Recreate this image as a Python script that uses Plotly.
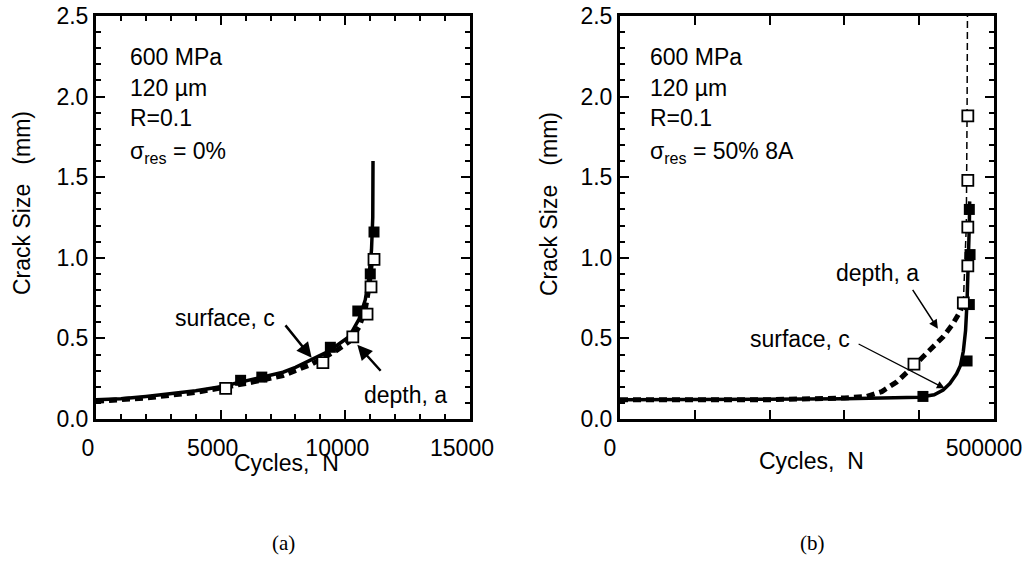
import plotly.graph_objects as go

W, H = 1027, 575

# ---- Panel (a) data ----
a_surf_N = [0, 1000, 2000, 3000, 4000, 5000, 6000, 7000, 7500, 8000, 8650, 9200, 9600, 10150, 10550, 10800, 10950, 11050, 11100, 11110]
a_surf_c = [0.12, 0.125, 0.14, 0.155, 0.175, 0.20, 0.235, 0.27, 0.29, 0.32, 0.37, 0.41, 0.45, 0.51, 0.62, 0.74, 0.88, 1.05, 1.25, 1.6]
a_depth_N = [0, 2000, 4000, 6000, 7500, 8650, 9600, 10150, 10550, 10800, 10950, 11050]
a_depth_a = [0.11, 0.13, 0.165, 0.22, 0.27, 0.34, 0.42, 0.48, 0.57, 0.68, 0.82, 0.98]
a_fill_N = [5800, 6650, 9400, 10500, 11000, 11150]
a_fill_c = [0.24, 0.26, 0.445, 0.67, 0.90, 1.16]
a_open_N = [5200, 9100, 10300, 10870, 11030, 11150]
a_open_a = [0.19, 0.35, 0.51, 0.65, 0.82, 0.99]

# ---- Panel (b) data ----
b_surf_N = [0, 100000, 200000, 300000, 400000, 420000, 432000, 441000, 450000, 455000, 459000, 462000, 464000, 466000, 467000, 467500]
b_surf_c = [0.12, 0.12, 0.12, 0.125, 0.135, 0.15, 0.18, 0.22, 0.28, 0.33, 0.42, 0.55, 0.73, 0.98, 1.2, 1.35]
b_depth_N = [0, 100000, 200000, 300000, 330000, 350000, 370000, 393000, 415000, 432000, 445000, 455000, 459000]
b_depth_a = [0.12, 0.12, 0.12, 0.13, 0.14, 0.17, 0.23, 0.33, 0.43, 0.51, 0.59, 0.67, 0.72]
b_depth_top_N = [459000, 463000, 464000, 464500]
b_depth_top_a = [0.72, 1.2, 1.9, 2.5]
b_fill_N = [405000, 464000, 467000, 468000, 467000]
b_fill_c = [0.14, 0.36, 0.71, 1.02, 1.30]
b_open_N = [393000, 459000, 465000, 465000, 465000, 465000]
b_open_a = [0.34, 0.72, 0.95, 1.19, 1.48, 1.88]

y_ticks = [0, 0.5, 1.0, 1.5, 2.0, 2.5]
y_labels = ["0.0", "0.5", "1.0", "1.5", "2.0", "2.5"]
a_x_ticks = [0, 5000, 10000, 15000]
b_x_ticks = [0, 100000, 200000, 300000, 400000, 500000]
b_x_labels = ["0", "", "", "", "", "500000"]

FONT = "Liberation Sans, Arial, sans-serif"
FS = 23

fig = go.Figure()

def add_panel(xa, ya, sN, sc, dN, da, fN, fc, oN, oa, dwidth):
    fig.add_trace(go.Scatter(x=dN, y=da, mode="lines", xaxis=xa, yaxis=ya,
                             line=dict(color="black", width=dwidth, dash="8px,5px"), showlegend=False))
    fig.add_trace(go.Scatter(x=sN, y=sc, mode="lines", xaxis=xa, yaxis=ya,
                             line=dict(color="black", width=3.5), showlegend=False))
    fig.add_trace(go.Scatter(x=fN, y=fc, mode="markers", xaxis=xa, yaxis=ya,
                             marker=dict(symbol="square", size=11, color="black"), showlegend=False))
    fig.add_trace(go.Scatter(x=oN, y=oa, mode="markers", xaxis=xa, yaxis=ya,
                             marker=dict(symbol="square", size=11, color="white",
                                         line=dict(color="black", width=1.8)), showlegend=False))

add_panel("x", "y", a_surf_N, a_surf_c, a_depth_N, a_depth_a, a_fill_N, a_fill_c, a_open_N, a_open_a, 5)
fig.add_trace(go.Scatter(x=b_depth_top_N, y=b_depth_top_a, mode="lines", xaxis="x2", yaxis="y2",
                         line=dict(color="black", width=1.5, dash="7px,4px"), showlegend=False))
add_panel("x2", "y2", b_surf_N, b_surf_c, b_depth_N, b_depth_a, b_fill_N, b_fill_c, b_open_N, b_open_a, 5)

ydom = [1 - 419 / H, 1 - 16 / H]
axis_common = dict(showline=True, linecolor="black", linewidth=3, mirror="allticks",
                   ticks="inside", ticklen=9, tickwidth=2, tickcolor="black",
                   tickmode="array", showgrid=False, zeroline=False, automargin=False,
                   tickfont=dict(family=FONT, size=FS, color="black"))
minor_common = dict(ticks="inside", ticklen=5, tickwidth=2, tickcolor="black", showgrid=False)

fig.update_layout(
    width=W, height=H, margin=dict(l=0, r=0, t=0, b=0, autoexpand=False),
    paper_bgcolor="white", plot_bgcolor="white",
    xaxis=dict(domain=[96 / W, 470 / W], range=[0, 15000], tickvals=a_x_ticks,
               ticktext=[str(v) for v in a_x_ticks], anchor="y",
               minor=dict(dtick=1000, **minor_common),
               ticklabelstandoff=6, ticklabelshift=-8, **axis_common),
    yaxis=dict(domain=ydom, range=[0, 2.5], tickvals=y_ticks, ticktext=y_labels, anchor="x",
               minor=dict(dtick=0.1, **minor_common), **axis_common),
    xaxis2=dict(domain=[620 / W, 994 / W], range=[0, 500000], tickvals=b_x_ticks,
                ticktext=b_x_labels, anchor="y2",
                ticklabelstandoff=6, ticklabelshift=-10, **axis_common),
    yaxis2=dict(domain=ydom, range=[0, 2.5], tickvals=y_ticks, ticktext=y_labels, anchor="x2",
                minor=dict(dtick=0.1, **minor_common), **axis_common),
)

def ptxt(px, py, text, xanchor="left", size=FS, family=FONT, angle=0):
    fig.add_annotation(x=px / W, y=1 - py / H, xref="paper", yref="paper", text=text,
                       showarrow=False, xanchor=xanchor, yanchor="middle", textangle=angle,
                       font=dict(family=family, size=size, color="black"))

nb = "\u00a0"
for x0, lines in [(128, ["600 MPa", "120 µm", "R=0.1", "σ<sub>res</sub> = 0%"]),
                  (648, ["600 MPa", "120 µm", "R=0.1", "σ<sub>res</sub> = 50% 8A"])]:
    for py, t in zip([57, 88, 118, 152], lines):
        ptxt(x0, py, t)

ptxt(22, 203, "Crack Size" + nb * 3 + "(mm)", xanchor="center", angle=-90)
ptxt(549, 204, "Crack Size" + nb * 3 + "(mm)", xanchor="center", angle=-90)
ptxt(286, 463, "Cycles," + nb * 2 + "N", xanchor="center")
ptxt(811, 461, "Cycles," + nb * 2 + "N", xanchor="center")

ptxt(283, 543, "(a)", xanchor="center", size=21, family="Liberation Serif, Times New Roman, serif")
ptxt(812, 543, "(b)", xanchor="center", size=21, family="Liberation Serif, Times New Roman, serif")

ptxt(225, 318, "surface, c", xanchor="center")
ptxt(405, 395, "depth, a", xanchor="center")
ptxt(877, 273, "depth, a", xanchor="center")
ptxt(800, 339, "surface, c", xanchor="center")

def arrow(xr, yr, tail, head, width):
    fig.add_annotation(x=head[0], y=head[1], ax=tail[0], ay=tail[1], xref=xr, yref=yr,
                       axref=xr, ayref=yr, text="", showarrow=True, arrowhead=2,
                       arrowsize=1.2, arrowwidth=width, arrowcolor="black")

arrow("x", "y", (7550, 0.59), (8650, 0.38), 2.5)
arrow("x", "y", (11470, 0.29), (10480, 0.46), 2.5)
arrow("x2", "y2", (390000, 0.81), (425000, 0.56), 1.5)
arrow("x2", "y2", (317000, 0.47), (434000, 0.19), 1.3)

fig.write_html("out.html")
